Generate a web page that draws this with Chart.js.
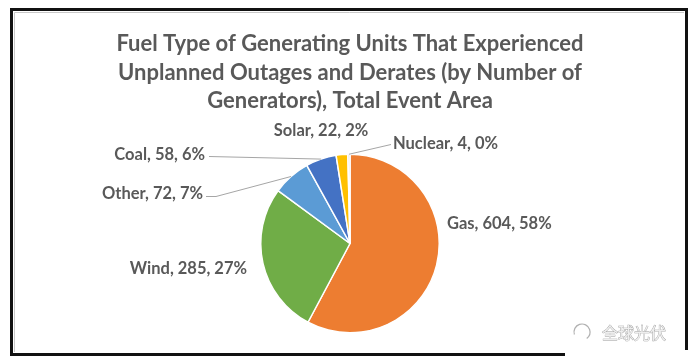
<!DOCTYPE html>
<html><head><meta charset="utf-8">
<script src="https://cdn.jsdelivr.net/npm/chart.js@4"></script>
<style>html,body{margin:0;padding:0;background:#fff;overflow:hidden}#w{width:697px;height:362px;position:relative}canvas{display:block}</style>
</head><body><div id="w"><canvas id="c" width="697" height="362"></canvas></div>
<script>
const categories = ['Gas', 'Wind', 'Other', 'Coal', 'Solar', 'Nuclear'];
const counts = [604, 285, 72, 58, 22, 4];
const percents = [58, 27, 7, 6, 2, 0];
const titleLines = ['Fuel Type of Generating Units That Experienced', 'Unplanned Outages and Derates (by Number of', 'Generators), Total Event Area'];
const watermark = '全球光伏';

const colors = ['#ED7D31', '#70AD47', '#5B9BD5', '#4472C4', '#FFC000', '#D9D9D9'];
const FONT = 'Lato, "Open Sans", sans-serif';
const TEXT = '#595959';

// label layout (anchor in px relative to pie centre), alignment and leader elbow
const labelLayout = [
  { dx: 97, dy: -20, align: 'left' },                 // Gas
  { dx: -103, dy: 25, align: 'right' },               // Wind
  { dx: -147, dy: -50, align: 'right', leader: [[-144, -47], [-134, -47]] }, // Other
  { dx: -145, dy: -89, align: 'right', leader: [[-141, -87]] },             // Coal
  { dx: -29, dy: -113, align: 'center' },             // Solar
  { dx: 43, dy: -100, align: 'left', leader: [[41, -99]] }                  // Nuclear
];

const decorPlugin = {
  id: 'decor',
  beforeDraw(chart) {
    const ctx = chart.ctx;
    ctx.save();
    ctx.fillStyle = '#fff';
    ctx.fillRect(0, 0, chart.width, chart.height);
    // frame
    ctx.strokeStyle = '#111';
    ctx.lineWidth = 3;
    ctx.beginPath();
    ctx.moveTo(565, 354.5); ctx.lineTo(11.5, 354.5); ctx.lineTo(11.5, 9.5); ctx.lineTo(686.5, 9.5); ctx.lineTo(686.5, 350);
    ctx.stroke();
    ctx.strokeStyle = '#c8c8c8';
    ctx.lineWidth = 1;
    ctx.beginPath();
    ctx.moveTo(14.5, 352); ctx.lineTo(14.5, 12.5); ctx.lineTo(684, 12.5);
    ctx.stroke();
    // title
    ctx.fillStyle = TEXT;
    ctx.font = 'bold 22px ' + FONT;
    ctx.textAlign = 'center';
    ctx.textBaseline = 'middle';
    titleLines.forEach((t, i) => ctx.fillText(t, 350, 44 + i * 28.5));
    ctx.restore();
  },
  afterDatasetsDraw(chart) {
    const ctx = chart.ctx;
    const meta = chart.getDatasetMeta(0);
    ctx.save();
    ctx.font = 'bold 16.5px ' + FONT;
    ctx.textBaseline = 'middle';
    meta.data.forEach((arc, i) => {
      const p = arc.getProps(['x', 'y', 'startAngle', 'endAngle', 'outerRadius'], true);
      const L = labelLayout[i];
      const mid = (p.startAngle + p.endAngle) / 2;
      const ex = p.x + Math.cos(mid) * p.outerRadius;
      const ey = p.y + Math.sin(mid) * p.outerRadius;
      if (L.leader) {
        ctx.strokeStyle = '#a6a6a6';
        ctx.lineWidth = 1;
        ctx.beginPath();
        L.leader.forEach((q, k) => {
          const X = p.x + q[0], Y = p.y + q[1];
          if (k === 0) ctx.moveTo(X, Y); else ctx.lineTo(X, Y);
        });
        ctx.lineTo(ex, ey);
        ctx.stroke();
      }
      ctx.fillStyle = TEXT;
      ctx.textAlign = L.align;
      ctx.fillText(categories[i] + ', ' + counts[i] + ', ' + percents[i] + '%', p.x + L.dx, p.y + L.dy);
    });
    // watermark
    ctx.font = '16px "Noto Sans CJK SC", sans-serif';
    ctx.textAlign = 'left';
    ctx.fillStyle = '#eeeeee';
    ctx.strokeStyle = '#9a9a9a';
    ctx.lineWidth = 0.7;
    ctx.strokeText(watermark, 602, 333);
    ctx.fillText(watermark, 602, 333);
    ctx.beginPath();
    ctx.arc(582, 332, 8, Math.PI * 0.9, Math.PI * 2.3);
    ctx.strokeStyle = '#b0b0b0';
    ctx.lineWidth = 1.2;
    ctx.stroke();
    ctx.restore();
  }
};

new Chart(document.getElementById('c'), {
  type: 'pie',
  data: {
    labels: categories,
    datasets: [{
      data: counts,
      backgroundColor: colors,
      borderColor: '#ffffff',
      borderWidth: 1.5
    }]
  },
  options: {
    responsive: false,
    animation: false,
    devicePixelRatio: 1,
    layout: { padding: { top: 153, bottom: 28, left: 260, right: 257 } },
    plugins: { legend: { display: false }, title: { display: false }, tooltip: { enabled: false } }
  },
  plugins: [decorPlugin]
});
</script>
</body></html>
